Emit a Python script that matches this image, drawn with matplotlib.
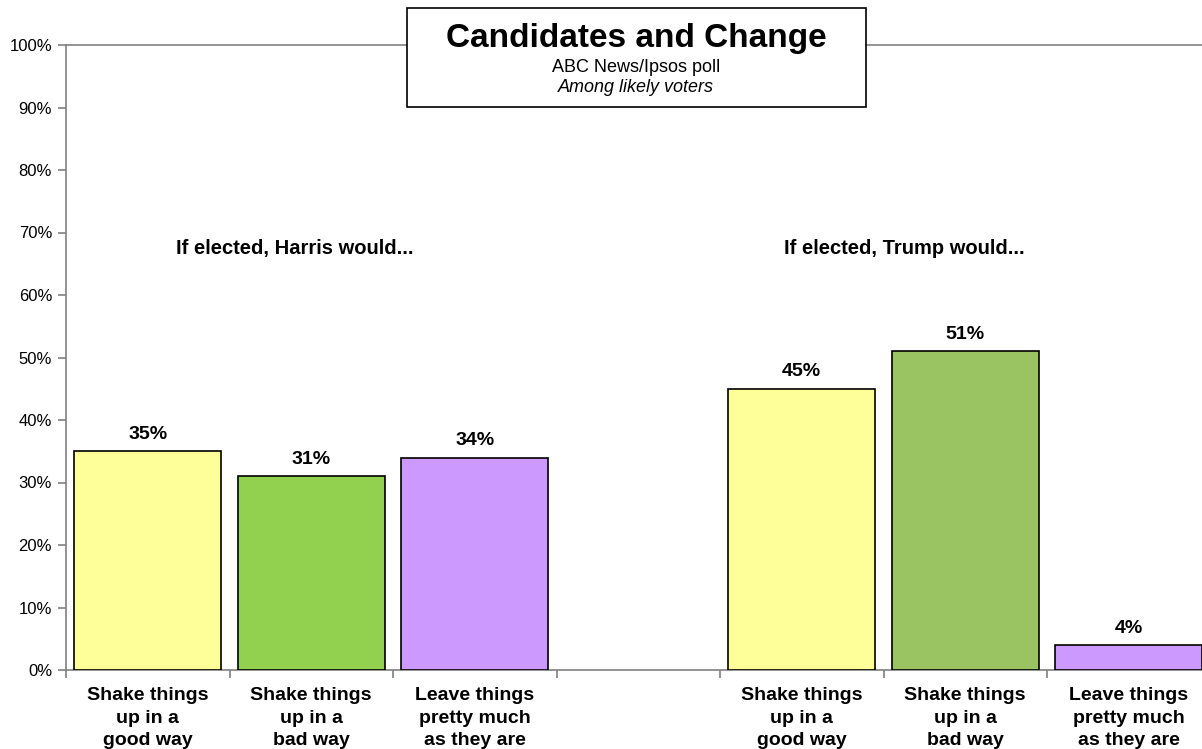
import matplotlib.pyplot as plt
from matplotlib.patches import Rectangle

plt.rcParams['font.family'] = ['Liberation Sans', 'DejaVu Sans']

# data
categories = ["Shake things\nup in a\ngood way",
              "Shake things\nup in a\nbad way",
              "Leave things\npretty much\nas they are"]
harris = [35, 31, 34]
trump = [45, 51, 4]
harris_colors = ["#FFFF99", "#92D050", "#CC99FF"]
trump_colors = ["#FFFF99", "#9AC462", "#CC99FF"]
yticks = [0, 10, 20, 30, 40, 50, 60, 70, 80, 90, 100]

fig = plt.figure(figsize=(12.02, 7.49), dpi=100)
ax = fig.add_axes([66 / 1202, 79 / 749, 1144.5 / 1202, 625 / 749])

x_h = [0, 1, 2]
x_t = [4, 5, 6]
ax.bar(x_h, harris, width=0.9, color=harris_colors, edgecolor="black", linewidth=1.2, zorder=3)
ax.bar(x_t, trump, width=0.9, color=trump_colors, edgecolor="black", linewidth=1.2, zorder=3)

for x, v in zip(x_h + x_t, harris + trump):
    ax.annotate(f"{v}%", (x, v), xytext=(0, 6), textcoords="offset points",
                ha="center", va="bottom", fontsize=14, fontweight="bold")

ax.set_xlim(-0.5, 6.5)
ax.set_ylim(0, 100)
ax.set_yticks(yticks)
ax.set_yticklabels([f"{t}%" for t in yticks], fontsize=12)
ax.set_xticks(x_h + x_t)
ax.set_xticklabels(categories + categories, fontsize=14, fontweight="bold", linespacing=1.45)
ax.set_xticks([-0.5, 0.5, 1.5, 2.5, 3.5, 4.5, 5.5, 6.5], minor=True)
ax.tick_params(axis="x", which="major", length=0, pad=12)
ax.tick_params(axis="x", which="minor", length=6, color="#808080", width=1.2)
ax.tick_params(axis="y", length=6, color="#808080", width=1.2, pad=4)
for s in ax.spines.values():
    s.set_color("#808080")
    s.set_linewidth(1.2)

ax.text(0.9, 67.5, "If elected, Harris would...", ha="center", va="center",
        fontsize=14.5, fontweight="bold")
ax.text(4.63, 67.5, "If elected, Trump would...", ha="center", va="center",
        fontsize=14.5, fontweight="bold")

# title box
fig.patches.append(Rectangle((407 / 1202, 1 - 107 / 749), 459 / 1202, 99 / 749,
                             transform=fig.transFigure, facecolor="white",
                             edgecolor="black", linewidth=1.2, zorder=5))
fig.text(636 / 1202, 1 - 38 / 749, "Candidates and Change", ha="center", va="center",
         fontsize=24, fontweight="bold", zorder=6)
fig.text(636 / 1202, 1 - 68 / 749, "ABC News/Ipsos poll", ha="center", va="center",
         fontsize=13, zorder=6)
fig.text(636 / 1202, 1 - 87 / 749, "Among likely voters", ha="center", va="center",
         fontsize=13, style="italic", zorder=6)

fig.savefig("out.png", dpi=100)
